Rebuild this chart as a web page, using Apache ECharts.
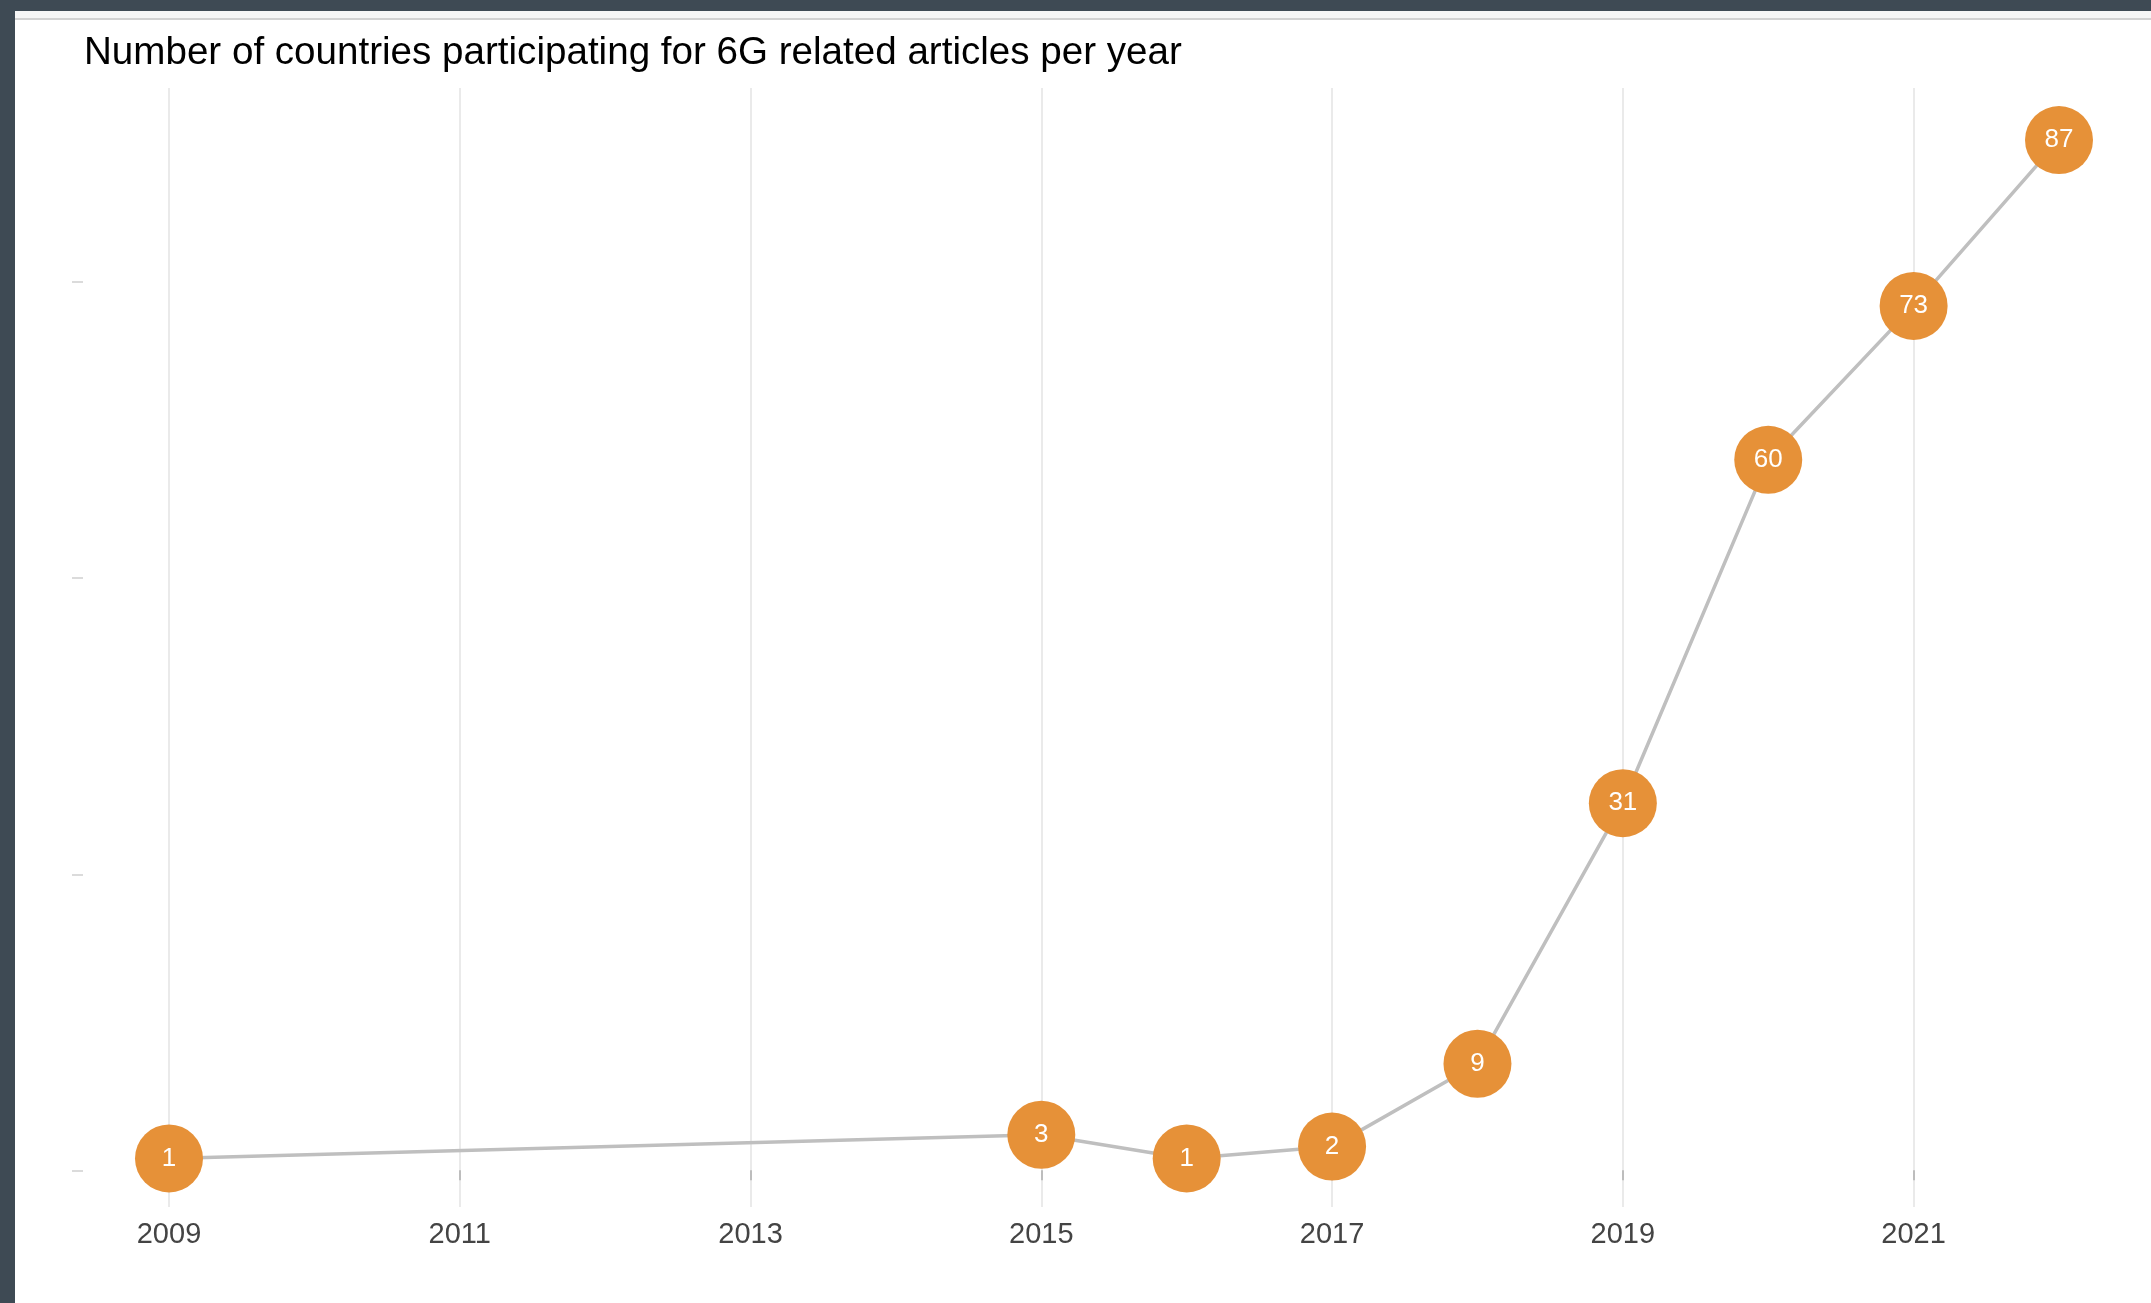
<!DOCTYPE html>
<html>
<head>
<meta charset="utf-8">
<title>6G countries per year</title>
<script src="https://cdn.jsdelivr.net/npm/echarts@6/dist/echarts.min.js"></script>
<style>
  html, body { margin: 0; padding: 0; background: #ffffff; overflow: hidden; }
  #chart { position: absolute; left: 0; top: 0; width: 2151px; height: 1303px; background: #ffffff; }
  .frame { position: absolute; pointer-events: none; }
  #frameLeft { left: 0; top: 0; width: 15px; height: 1303px; background: #3e4a54; }
  #frameTop { left: 0; top: 0; width: 2151px; height: 11px; background: #3e4a54; }
  #band { left: 15px; top: 11px; width: 2136px; height: 7px; background: #f6f6f6; }
  #rule { left: 15px; top: 18px; width: 2136px; height: 2px; background: #d2d2d2; }
</style>
</head>
<body>
<div id="chart"></div>
<div class="frame" id="frameLeft"></div>
<div class="frame" id="frameTop"></div>
<div class="frame" id="band"></div>
<div class="frame" id="rule"></div>
<script>
// Years on the horizontal axis (every year, labels shown every other one)
const years = ['2009', '2010', '2011', '2012', '2013', '2014', '2015',
               '2016', '2017', '2018', '2019', '2020', '2021', '2022'];

// Number of participating countries; years without articles are left empty
const countries = [1, null, null, null, null, null, 3, 1, 2, 9, 31, 60, 73, 87];

// Positions of the small tick marks on the vertical axis
const yTickValues = [0, 25, 50, 75];

const chart = echarts.init(document.getElementById('chart'), null, { renderer: 'canvas' });

const FONT = '"Liberation Sans", Arial, sans-serif';

chart.setOption({
  animation: false,
  backgroundColor: '#ffffff',
  title: {
    text: 'Number of countries participating for 6G related articles per year',
    left: 79,
    top: 29,
    textStyle: {
      fontFamily: FONT,
      fontSize: 38.6,
      fontWeight: 'normal',
      color: '#000000'
    }
  },
  grid: {
    left: 169,
    right: 92,
    top: 88,
    bottom: 96,
    containLabel: false
  },
  xAxis: {
    type: 'category',
    data: years,
    boundaryGap: false,
    axisLine: { show: false },
    axisTick: {
      show: true,
      interval: 1,
      length: 10,
      lineStyle: { color: '#bdbdbd', width: 2 }
    },
    axisLabel: {
      interval: 1,
      margin: 13,
      fontFamily: FONT,
      fontSize: 29,
      color: '#444444'
    },
    splitLine: {
      show: true,
      interval: 1,
      lineStyle: { color: '#e3e3e3', width: 1.5 }
    }
  },
  yAxis: {
    type: 'value',
    min: -3.1,
    max: 91.4,
    offset: 86,
    axisLine: { show: false },
    axisLabel: { show: false },
    axisTick: {
      show: true,
      length: 11,
      customValues: yTickValues,
      lineStyle: { color: '#cfcfcf', width: 1.5 }
    },
    splitLine: { show: false }
  },
  series: [{
    type: 'line',
    data: countries,
    connectNulls: true,
    symbol: 'circle',
    symbolSize: 68,
    itemStyle: { color: '#e69138' },
    lineStyle: { color: '#bfbfbf', width: 3.5 },
    label: {
      show: true,
      position: 'inside',
      fontFamily: FONT,
      fontSize: 26,
      color: '#ffffff'
    }
  }]
});
</script>
</body>
</html>
